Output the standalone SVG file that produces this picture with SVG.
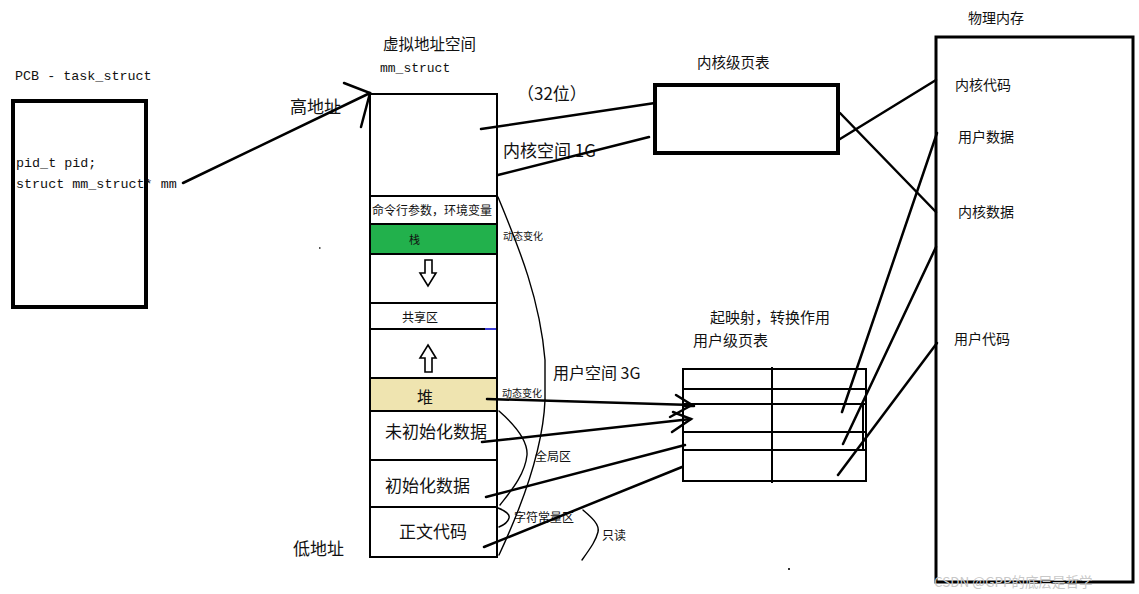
<svg xmlns="http://www.w3.org/2000/svg" width="1139" height="594" viewBox="0 0 1139 594">
  <style>
    .cn { font-family: "Noto Sans CJK SC", "Noto Sans", sans-serif; fill: #111; }
    .code { font-family: "Liberation Mono", "DejaVu Sans Mono", monospace; fill: #111; }
    .box { fill: #fff; stroke: #000; }
    .row { stroke: #000; stroke-width: 2; fill: none; }
    .ln { stroke: #000; stroke-width: 2.5; fill: none; stroke-linecap: round; }
    .thin { stroke: #000; stroke-width: 1.4; fill: none; stroke-linecap: round; }
  </style>

  <rect width="1139" height="594" fill="#fff"/>

  <!-- process control block -->
  <g id="pcb">
    <text class="code" x="15" y="80" font-size="13.4">PCB - task_struct</text>
    <rect class="box" x="13" y="101" width="133" height="206" stroke-width="4"/>
    <text class="code" x="16" y="167" font-size="13.4">pid_t pid;</text>
    <text class="code" x="16" y="188" font-size="13.4">struct mm_struct* mm</text>
  </g>

  <!-- virtual address space -->
  <g id="vas">
    <text class="cn" x="383" y="50" font-size="15.5">虚拟地址空间</text>
    <text class="code" x="380" y="72" font-size="13">mm_struct</text>
    <rect class="box" x="370" y="94" width="127" height="463" stroke-width="2"/>
    <rect x="370" y="224" width="127" height="30" fill="#22b14c"/>
    <rect x="370" y="378" width="127" height="33" fill="#efe4b0"/>
    <line class="row" x1="369" y1="196" x2="498" y2="196"/>
    <line class="row" x1="369" y1="224" x2="498" y2="224"/>
    <line class="row" x1="369" y1="254" x2="498" y2="254"/>
    <line class="row" x1="369" y1="303" x2="498" y2="303" stroke-width="1.2"/>
    <line class="row" x1="369" y1="329" x2="485" y2="329"/>
    <line x1="485" y1="329" x2="498" y2="329" stroke="#3b3bd6" stroke-width="2"/>
    <line class="row" x1="369" y1="378" x2="498" y2="378"/>
    <line class="row" x1="369" y1="411" x2="498" y2="411"/>
    <line class="row" x1="369" y1="460" x2="498" y2="460"/>
    <line class="row" x1="369" y1="507" x2="498" y2="507"/>
    <line class="row" x1="370" y1="94" x2="370" y2="557"/>
    <line class="row" x1="497" y1="94" x2="497" y2="557"/>
    <text class="cn" x="372" y="215" font-size="12">命令行参数，环境变量</text>
    <text class="cn" x="409" y="244" font-size="11">栈</text>
    <polygon points="425,260 432,260 432,273 436,273 428,286 420,273 425,273" fill="#fff" stroke="#000" stroke-width="1.6"/>
    <text class="cn" x="402" y="322" font-size="12">共享区</text>
    <polygon points="428,345 436,358 432,358 432,372 425,372 425,358 420,358" fill="#fff" stroke="#000" stroke-width="1.6"/>
    <text class="cn" x="417" y="403" font-size="16">堆</text>
    <text class="cn" x="385" y="438" font-size="17">未初始化数据</text>
    <text class="cn" x="385" y="492" font-size="17">初始化数据</text>
    <text class="cn" x="399" y="538" font-size="17">正文代码</text>
  </g>

  <!-- labels around the address space -->
  <g id="vas-notes">
    <text class="cn" x="290" y="113" font-size="17">高地址</text>
    <text class="cn" x="293" y="555" font-size="17">低地址</text>
    <text class="cn" x="517" y="100" font-size="17">（32位）</text>
    <text class="cn" x="503" y="157" font-size="17">内核空间 1G</text>
    <text class="cn" x="553" y="379" font-size="16">用户空间 3G</text>
    <text class="cn" x="503" y="240" font-size="10">动态变化</text>
    <text class="cn" x="502" y="397" font-size="10">动态变化</text>
    <text class="cn" x="535" y="461" font-size="12">全局区</text>
    <text class="cn" x="514" y="522" font-size="12">字符常量区</text>
    <text class="cn" x="602" y="540" font-size="12">只读</text>
  </g>

  <!-- kernel page table -->
  <g id="kernel-page-table">
    <text class="cn" x="697" y="68" font-size="14.5">内核级页表</text>
    <rect class="box" x="655" y="85" width="183" height="68" stroke-width="4"/>
  </g>

  <!-- user page table -->
  <g id="user-page-table">
    <text class="cn" x="710" y="323" font-size="15">起映射，转换作用</text>
    <text class="cn" x="693" y="346" font-size="15">用户级页表</text>
    <rect class="box" x="683" y="369" width="183" height="112" stroke-width="2"/>
    <line class="row" x1="683" y1="389" x2="866" y2="389"/>
    <line class="row" x1="683" y1="404" x2="866" y2="404" stroke-width="2.6"/>
    <line class="row" x1="683" y1="432" x2="866" y2="432" stroke-width="2.6"/>
    <line class="row" x1="683" y1="450" x2="866" y2="450"/>
    <line class="row" x1="772" y1="367" x2="772" y2="483"/>
    <line class="row" x1="863" y1="404" x2="863" y2="450"/>
  </g>

  <!-- physical memory -->
  <g id="physical-memory">
    <text class="cn" x="968" y="23" font-size="14">物理内存</text>
    <rect class="box" x="936" y="37" width="197" height="545" stroke-width="3"/>
    <text class="cn" x="955" y="90" font-size="14">内核代码</text>
    <text class="cn" x="958" y="142" font-size="14">用户数据</text>
    <text class="cn" x="958" y="217" font-size="14">内核数据</text>
    <text class="cn" x="954" y="344" font-size="14">用户代码</text>
  </g>

  <!-- connectors -->
  <g id="connectors">
    <!-- task_struct to mm_struct -->
    <path class="ln" d="M183,183 Q275,139 370,93"/>
    <path class="ln" d="M344,83 L370,93 L361,127"/>

    <!-- kernel space to kernel page table -->
    <line class="ln" x1="481" y1="129" x2="655" y2="103"/>
    <line class="ln" x1="498" y1="175" x2="649" y2="137"/>

    <!-- kernel page table to physical memory -->
    <line class="ln" x1="840" y1="139" x2="936" y2="80"/>
    <line class="ln" x1="840" y1="113" x2="936" y2="212"/>

    <!-- user regions to user page table -->
    <line class="ln" x1="487" y1="399" x2="692" y2="405"/>
    <path class="ln" d="M676,395 L692,405 L670,417"/>
    <line class="ln" x1="684" y1="406" x2="694" y2="406"/>
    <line class="ln" x1="482" y1="442" x2="691" y2="419"/>
    <path class="ln" d="M673,412 L691,419 L672,432"/>
    <line class="ln" x1="486" y1="497" x2="685" y2="445"/>
    <line class="ln" x1="484" y1="547" x2="682" y2="467"/>

    <!-- user page table to physical memory -->
    <line class="ln" x1="842" y1="412" x2="937" y2="133"/>
    <line class="ln" x1="843" y1="444" x2="936" y2="247"/>
    <line class="ln" x1="838" y1="475" x2="937" y2="343"/>

    <!-- braces -->
    <path class="thin" d="M498,197 C520,250 540,300 545,360 L545,400 C543,450 520,510 499,555"/>
    <path class="thin" d="M499,411 C515,425 528,440 527,455 C525,475 510,492 500,505"/>
    <path class="thin" d="M498,508 C506,511 510,515 509,518 C508,522 504,525 499,527"/>
    <path class="thin" d="M583,510 C590,516 600,524 598,532 C596,540 592,546 582,560"/>
  </g>

  <!-- stray marks -->
  <rect x="319" y="247" width="1.5" height="2" fill="#555"/>
  <rect x="788" y="568" width="2" height="2" fill="#333"/>

  <text class="cn" x="934" y="587" font-size="13.5" fill="#c8c8c8" style="fill:#c8c8c8">CSDN @GPP的底层是哲学</text>
</svg>
